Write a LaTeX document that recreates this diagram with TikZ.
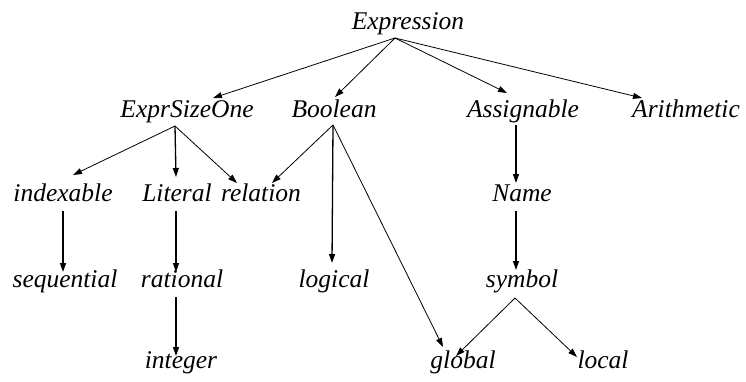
\documentclass[tikz,border=0pt]{standalone}
\usepackage{fontspec}
\setmainfont{Liberation Serif}
\usetikzlibrary{arrows.meta,calc}
\tikzset{
  lbl/.style={font=\fontsize{25.5}{30}\selectfont\itshape, anchor=base, inner sep=0pt, outer sep=0pt, text height=17pt, text depth=6pt},
  arr/.style={-{Triangle[length=9pt,width=6pt]}, line width=0.8pt},
  varr/.style={arr, line width=1.3pt}
}
\begin{document}
\begin{tikzpicture}[x=1pt,y=-1pt]
\useasboundingbox (0,0) rectangle (746,381);
\node[lbl] (Expression) at (408,29) {Expression};
\node[lbl] (ExprSizeOne) at (187,117) {ExprSizeOne};
\node[lbl] (Boolean) at (334,117) {Boolean};
\node[lbl] (Assignable) at (523,117) {Assignable};
\node[lbl] (Arithmetic) at (686,117) {Arithmetic};
\node[lbl] (indexable) at (63,201) {indexable};
\node[lbl] (Literal) at (177,201) {Literal};
\node[lbl] (relation) at (261,201) {relation};
\node[lbl] (Name) at (522,201) {Name};
\node[lbl] (sequential) at (65,287) {sequential};
\node[lbl] (rational) at (182,287) {rational};
\node[lbl] (logical) at (334,287) {logical};
\node[lbl] (symbol) at (522,287) {symbol};
\node[lbl] (integer) at (181,368) {integer};
\node[lbl] (global) at (463,368) {global};
\node[lbl] (local) at (603,368) {local};

\coordinate (eS) at ($(Expression.south)+(-13,3)$);
\draw[arr] (eS) -- ($(ExprSizeOne.north)+(26,-2)$);
\draw[arr] (eS) -- ($(Boolean.north)+(1,-3)$);
\draw[arr] (eS) -- ($(Assignable.north)+(-16,-7)$);
\draw[arr] (eS) -- ($(Arithmetic.north)+(-44,-2)$);

\coordinate (oS) at ($(ExprSizeOne.south)+(-12,3)$);
\draw[arr] (oS) -- ($(indexable.north)+(10,-9)$);
\draw[varr] (oS) -- ($(Literal.north)+(-1,-7)$);
\draw[arr] (oS) -- ($(relation.north)+(-24,-1)$);

\coordinate (bS) at ($(Boolean.south)+(-1,2)$);
\draw[arr] (bS) -- ($(relation.north)+(11,-1)$);
\draw[varr] (bS) -- ($(logical.north)+(-2,-7)$);
\draw[arr] (bS) -- ($(global.north)+(-20,-4)$);

\draw[varr] ($(Assignable.south)+(-7,2)$) -- ($(Name.north)+(-6,-1)$);
\draw[varr] ($(Name.south)+(-6,4)$) -- ($(symbol.north)+(-6,0)$);
\draw[arr] ($(symbol.south)+(-7,5)$) -- ($(global.north)+(-7,5)$);
\draw[arr] ($(symbol.south)+(-7,5)$) -- ($(local.north)+(-26,6)$);

\draw[varr] ($(indexable.south)+(0,4)$) -- ($(sequential.north)+(-2,2)$);
\draw[varr] ($(Literal.south)+(-1,4)$) -- ($(rational.north)+(-6,2)$);
\draw[varr] ($(rational.south)+(-6,4)$) -- ($(integer.north)+(-5,5)$);
\end{tikzpicture}
\end{document}
